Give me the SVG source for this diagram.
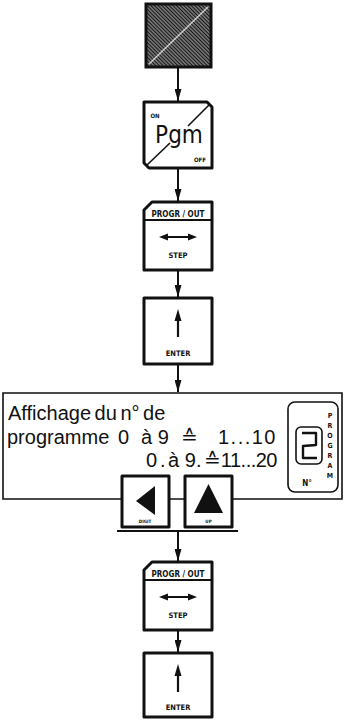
<svg xmlns="http://www.w3.org/2000/svg" width="345" height="720" viewBox="0 0 345 720">
  <defs>
    <pattern id="hatch" patternUnits="userSpaceOnUse" width="2.6" height="2.6" patternTransform="rotate(45)">
      <rect width="2.6" height="2.6" fill="#fff"/>
      <line x1="0" y1="1.3" x2="2.6" y2="1.3" stroke="#111" stroke-width="1.9"/>
    </pattern>
    <marker id="arr" viewBox="0 0 12 7" refX="12" refY="3.5" markerWidth="12" markerHeight="7" markerUnits="userSpaceOnUse" orient="auto">
      <path d="M0,0 L12,3.5 L0,7 Z" fill="#111"/>
    </marker>
    <style>
      .key { fill: #fff; stroke: #111; stroke-width: 3; stroke-linejoin: round; }
      .thin { fill: none; stroke: #111; stroke-width: 1.6; }
      .conn { fill: none; stroke: #111; stroke-width: 2; marker-end: url(#arr); }
      .lbl { font-family: "DejaVu Sans Condensed", "Liberation Sans Narrow", "Liberation Sans", sans-serif; font-weight: bold; fill: #111; text-anchor: middle; }
      .big { font-family: "DejaVu Sans Condensed", "Liberation Sans Narrow", "Liberation Sans", sans-serif; font-weight: normal; fill: #111; text-anchor: middle; }
      .txt { font-family: "Liberation Sans", Arial, sans-serif; font-size: 20px; fill: #111; }
      .sym { fill: #111; stroke: none; }
    </style>
  </defs>

  <!-- connectors -->
  <g id="connectors">
    <line class="conn" x1="178" y1="67" x2="178" y2="101"/>
    <line class="conn" x1="178" y1="168" x2="178" y2="201"/>
    <line class="conn" x1="178" y1="270" x2="178" y2="297"/>
    <line class="conn" x1="178" y1="364" x2="178" y2="392"/>
    <line class="conn" x1="178" y1="531" x2="178" y2="561"/>
    <line class="conn" x1="178" y1="630" x2="178" y2="652"/>
  </g>

  <!-- pressed (hatched) program key -->
  <g id="key-program">
    <rect x="146" y="4" width="65" height="63" fill="url(#hatch)" stroke="#111" stroke-width="3"/>
    <line x1="149" y1="64" x2="208" y2="7" stroke="#fff" stroke-width="1.5" opacity="0.7"/>
  </g>

  <!-- Pgm ON/OFF key -->
  <g id="key-pgm">
    <path class="key" d="M144,102 L207,102 L212,107 L212,168 L149,168 L144,163 Z"/>
    <line x1="147" y1="165" x2="170" y2="143" stroke="#111" stroke-width="1.6"/>
    <line x1="188" y1="126" x2="209" y2="105" stroke="#111" stroke-width="1.6"/>
    <text class="lbl" x="155" y="118" font-size="6">ON</text>
    <text class="big" x="179" y="143" font-size="24">Pgm</text>
    <text class="lbl" x="200" y="162" font-size="6">OFF</text>
  </g>

  <!-- PROGR/OUT STEP key -->
  <g id="key-step-1">
    <path class="key" d="M152,202 L212,202 L212,270 L144,270 L144,210 Z"/>
    <line x1="144" y1="220" x2="212" y2="220" stroke="#111" stroke-width="2"/>
    <text class="lbl" x="178" y="216.5" font-size="8">PROGR / OUT</text>
    <line x1="165" y1="237" x2="191" y2="237" stroke="#111" stroke-width="2"/>
    <path class="sym" d="M159,237 L168,233.5 L168,240.5 Z M197,237 L188,233.5 L188,240.5 Z"/>
    <text class="lbl" x="178" y="258" font-size="7.5">STEP</text>
  </g>

  <!-- ENTER key -->
  <g id="key-enter-1">
    <rect class="key" x="144" y="298" width="68" height="66"/>
    <line x1="178" y1="318" x2="178" y2="337" stroke="#111" stroke-width="2.2"/>
    <path class="sym" d="M178,309 L174.5,321 L181.5,321 Z"/>
    <text class="lbl" x="178" y="356" font-size="7.5">ENTER</text>
  </g>

  <!-- program number display panel -->
  <g id="panel">
    <path class="thin" d="M122,499 L3,499 L3,393 L342,393 L342,499 L232,499 M169,499 L185,499"/>
    <text class="txt" x="8" y="420" word-spacing="-2">Affichage du n° de</text>
    <text class="txt" x="7" y="444">programme</text>
    <text class="txt" x="118" y="444">0</text>
    <text class="txt" x="141" y="444">à 9</text>
    <text class="txt" x="181" y="444">≙</text>
    <text class="txt" x="277" y="444" text-anchor="end" letter-spacing="1.5">1...10</text>
    <text class="txt" x="146" y="467">0</text>
    <text class="txt" x="160" y="467">.</text>
    <text class="txt" x="168" y="467">à 9</text>
    <text class="txt" x="196" y="467">.</text>
    <text class="txt" x="204" y="467">≙</text>
    <text class="txt" x="277" y="467" text-anchor="end" letter-spacing="-0.5">11...20</text>

    <!-- seven-segment readout -->
    <rect x="288" y="402" width="50" height="90" rx="7" fill="none" stroke="#111" stroke-width="1.6"/>
    <rect x="296" y="427" width="26" height="37" rx="5" fill="none" stroke="#111" stroke-width="1.6"/>
    <path d="M302,433 L316,433 L316,445 L303,446 L303,458 L317,458" fill="none" stroke="#111" stroke-width="2.4" stroke-linejoin="round"/>
    <text class="lbl" x="307" y="486" font-size="8">N°</text>
    <g class="lbl" font-size="7">
      <text x="330" y="418">P</text>
      <text x="330" y="428">R</text>
      <text x="330" y="438">O</text>
      <text x="330" y="448">G</text>
      <text x="330" y="458">R</text>
      <text x="330" y="468">A</text>
      <text x="330" y="478">M</text>
    </g>
  </g>

  <!-- DIGIT key -->
  <g id="key-digit">
    <rect class="key" x="122" y="476" width="47" height="51"/>
    <path class="sym" d="M136,501 L155,486 L155,515 Z"/>
    <text class="lbl" x="145" y="523" font-size="4.5">DIGIT</text>
  </g>

  <!-- UP key -->
  <g id="key-up">
    <rect class="key" x="185" y="476" width="47" height="51"/>
    <path class="sym" d="M208.5,484 L194,513 L223,513 Z"/>
    <text class="lbl" x="208.5" y="523" font-size="4.5">UP</text>
  </g>

  <line id="keys-underline" x1="117" y1="531" x2="238" y2="531" stroke="#111" stroke-width="2"/>

  <!-- PROGR/OUT STEP key (second) -->
  <g id="key-step-2">
    <path class="key" d="M152,562 L212,562 L212,630 L144,630 L144,570 Z"/>
    <line x1="144" y1="580" x2="212" y2="580" stroke="#111" stroke-width="2"/>
    <text class="lbl" x="178" y="576.5" font-size="8">PROGR / OUT</text>
    <line x1="165" y1="597" x2="191" y2="597" stroke="#111" stroke-width="2"/>
    <path class="sym" d="M159,597 L168,593.5 L168,600.5 Z M197,597 L188,593.5 L188,600.5 Z"/>
    <text class="lbl" x="178" y="618" font-size="7.5">STEP</text>
  </g>

  <!-- ENTER key (second) -->
  <g id="key-enter-2">
    <rect class="key" x="144" y="653" width="68" height="64"/>
    <line x1="178" y1="673" x2="178" y2="692" stroke="#111" stroke-width="2.2"/>
    <path class="sym" d="M178,664 L174.5,676 L181.5,676 Z"/>
    <text class="lbl" x="178" y="710" font-size="7.5">ENTER</text>
  </g>
</svg>
